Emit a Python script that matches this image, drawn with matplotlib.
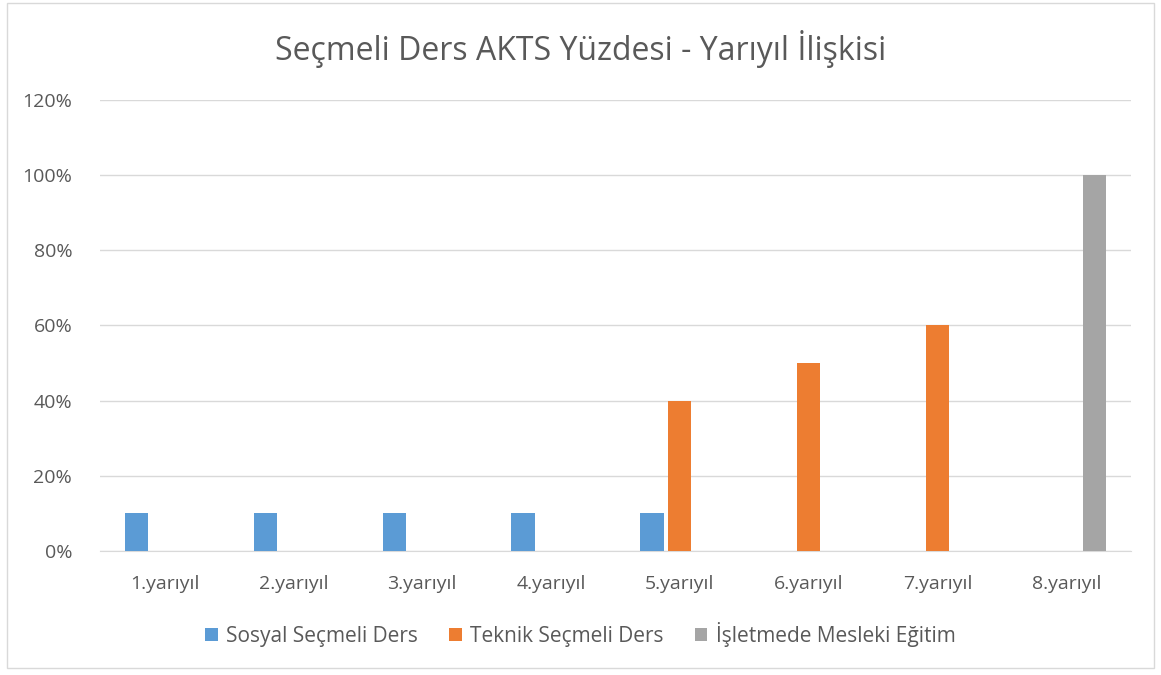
import matplotlib
matplotlib.use("Agg")
import matplotlib.pyplot as plt
import numpy as np
from matplotlib.patches import Rectangle
from matplotlib.ticker import PercentFormatter

plt.rcParams['font.family'] = ['Open Sans', 'DejaVu Sans']

# veriler
yariyillar = ['1.yarıyıl', '2.yarıyıl', '3.yarıyıl', '4.yarıyıl',
              '5.yarıyıl', '6.yarıyıl', '7.yarıyıl', '8.yarıyıl']
sosyal = [10, 10, 10, 10, 10, 0, 0, 0]
teknik = [0, 0, 0, 0, 40, 50, 60, 0]
isletme = [0, 0, 0, 0, 0, 0, 0, 100]
seri_adlari = ['Sosyal Seçmeli Ders', 'Teknik Seçmeli Ders', 'İşletmede Mesleki Eğitim']
renkler = ['#5B9BD5', '#ED7D31', '#A5A5A5']

fig = plt.figure(figsize=(11.61, 6.75), dpi=100)
ax = fig.add_axes([0.0861, 0.1837, 0.888, 0.6682])

x = np.arange(len(yariyillar))
w = 0.18
off = 0.217
for i, (vals, ad, c) in enumerate(zip([sosyal, teknik, isletme], seri_adlari, renkler)):
    ax.bar(x + (i - 1) * off, vals, width=w, color=c, label=ad, zorder=3)

ax.set_xlim(-0.5, len(yariyillar) - 0.5)
ax.set_ylim(0, 120)
ax.set_yticks(range(0, 121, 20))
ax.yaxis.set_major_formatter(PercentFormatter(decimals=0))
ax.set_xticks(x)
ax.set_xticklabels(yariyillar)
ax.grid(axis='y', color='#D9D9D9', linewidth=1, zorder=0)
for s in ['top', 'right', 'left']:
    ax.spines[s].set_visible(False)
ax.spines['bottom'].set_color('#D9D9D9')
ax.tick_params(axis='y', length=0, colors='#595959', labelsize=14, pad=20)
ax.tick_params(axis='x', length=0, colors='#595959', labelsize=14, pad=17)

fig.text(0.5, 0.928, 'Seçmeli Ders AKTS Yüzdesi - Yarıyıl İlişkisi', ha='center', va='center',
         fontsize=23, color='#595959')

fig.legend(loc='center', bbox_to_anchor=(0.5, 0.06), ncol=3, frameon=False,
           fontsize=15, labelcolor='#595959', handlelength=0.6, handleheight=0.6,
           columnspacing=1.5, handletextpad=0.4)

fig.patches.append(Rectangle((0.006, 0.01), 0.988, 0.985, transform=fig.transFigure,
                             fill=False, edgecolor='#D9D9D9', linewidth=1))

fig.savefig('out.png', dpi=100)
